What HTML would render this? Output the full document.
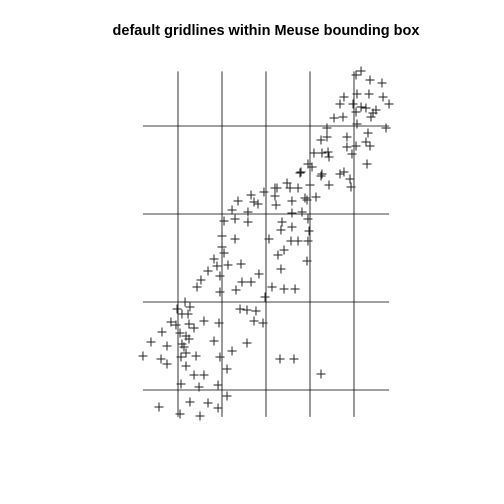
<!DOCTYPE html>
<html><head><meta charset="utf-8"><style>
html,body{margin:0;padding:0;background:#fff;}
svg{display:block;}
</style></head><body>
<svg id="chart" width="504" height="504" viewBox="0 0 504 504" xmlns="http://www.w3.org/2000/svg">
<rect width="504" height="504" fill="#fff"/>
<text x="266" y="35" text-anchor="middle" font-family="Liberation Sans, sans-serif" font-weight="bold" font-size="14.5" fill="#000">default gridlines within Meuse bounding box</text>
<g id="grid"></g>
<g id="pts"></g>
</svg>
<script>
const gridX = [179000, 179500, 180000, 180500, 181000];
const gridY = [330000, 331000, 332000, 333000];
const bboxX = [178602, 181398];
const bboxY = [329694, 333621];
const xs = [179409,179523,179443,179568,179716,179341,179477,179261,179920,179727,179830,179216,179659,179477,179080,179136,178989,179045,179114,179705,179784,179886,179989,178920,178977,179125,179182,179295,179466,179864,179966,178818,179023,179091,179125,178693,178875,179045,179068,179409,179784,179091,179034,179205,178602,178807,178875,179477,179614,179091,179557,179182,179295,179034,179239,179455,179557,178784,179136,179341,179455,179023,179250,180159,180318,180625,
180386,180625,180239,180102,180273,180364,180500,179977,180102,179830,179682,179864,179909,180295,180466,180568,180114,179614,179795,180295,180409,179523,179648,179795,180182,180477,180170,180295,180489,179500,179648,180034,180284,180364,180477,179500,180205,180136,180466,180170,180068,180205,180330,
181080,181023,181182,181318,180886,181034,181170,181330,181398,180841,180989,181080,181136,181023,181250,181216,180773,180875,181193,181034,180693,181364,180625,180693,180920,181159,181136,181182,180920,181023,180545,180636,180705,180716,180977,180477,180523,181148,180398,180636,180841,180886,180955,180716,180966,180125,180443];
const ys = [331489,331557,331409,331420,331432,331352,331295,331250,331318,331227,331227,331170,331136,331114,331000,330943,330920,330864,330864,330920,330909,330898,331057,330773,330739,330750,330705,330784,330761,330784,330761,330659,330648,330614,330580,330545,330500,330523,330489,330557,330534,330420,330375,330386,330386,330352,330295,330375,330443,330273,330239,330170,330170,330068,330034,330057,329932,329807,329864,329852,329795,329727,329705,330352,330352,330182,
332466,332432,332352,332296,332296,332296,332330,332250,332205,332216,332148,332136,332114,332148,332159,332193,332102,332045,332023,332011,332023,331920,331943,331909,331909,331943,331818,331852,331807,331750,331716,331716,331693,331693,331693,331625,331591,331534,331466,331375,331170,331148,331148,
333625,333580,333523,333489,333330,333364,333364,333330,333250,333250,333250,333216,333205,333159,333182,333148,333091,333102,333102,333023,332977,332977,332841,332875,332875,332920,332818,332773,332761,332773,332693,332693,332705,332648,332682,332568,332534,332568,332477,332455,332455,332477,332398,332330,332307,332296,332182];

const S = 0.088;
function sx(x){ return 178 + (x - 179000) * S; }
function sy(y){ return 390 - (y - 330000) * S; }
const NS = 'http://www.w3.org/2000/svg';
const g = document.getElementById('grid');
gridX.forEach(function(v){
  const l = document.createElementNS(NS,'line');
  l.setAttribute('x1', sx(v)); l.setAttribute('x2', sx(v));
  l.setAttribute('y1', sy(bboxY[1])); l.setAttribute('y2', sy(bboxY[0]));
  l.setAttribute('stroke', '#000'); l.setAttribute('stroke-width', '0.8');
  
  
  g.appendChild(l);
});
gridY.forEach(function(v){
  const l = document.createElementNS(NS,'line');
  l.setAttribute('y1', sy(v)); l.setAttribute('y2', sy(v));
  l.setAttribute('x1', sx(bboxX[0])); l.setAttribute('x2', sx(bboxX[1]));
  l.setAttribute('stroke', '#000'); l.setAttribute('stroke-width', '0.8');
  
  
  g.appendChild(l);
});
const p = document.getElementById('pts');
for (let i = 0; i < xs.length; i++) {
  const cx = sx(xs[i]), cy = sy(ys[i]);
  const path = document.createElementNS(NS,'path');
  path.setAttribute('d', 'M' + (cx-4.5) + ' ' + cy + 'H' + (cx+4.5) + 'M' + cx + ' ' + (cy-4.5) + 'V' + (cy+4.5));
  path.setAttribute('stroke', '#222'); path.setAttribute('stroke-width', '1');
  path.setAttribute('fill', 'none');
  
  
  p.appendChild(path);
}
</script>
</body></html>
